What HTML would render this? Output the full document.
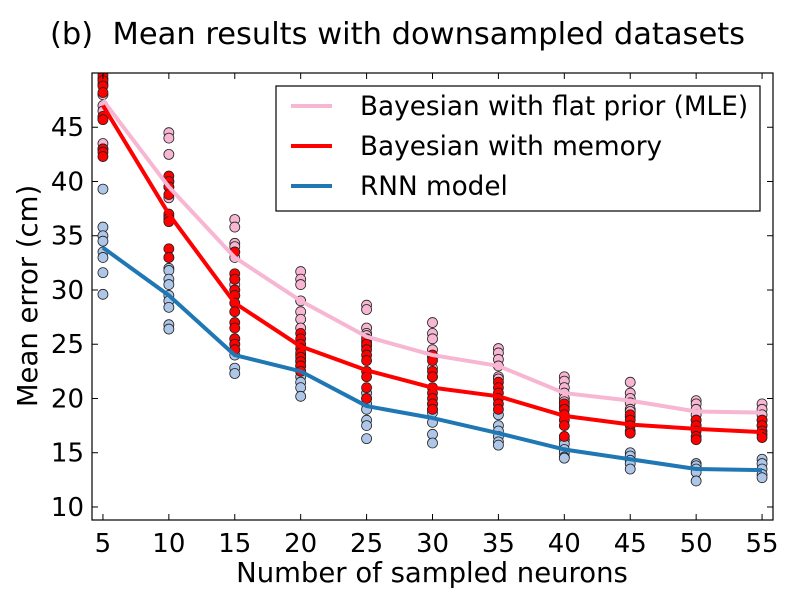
<!DOCTYPE html>
<html><head><meta charset="utf-8"><style>
body{margin:0;background:#fff}
svg text{font-family:"DejaVu Sans","Liberation Sans",sans-serif;fill:#000}
</style></head><body>
<svg id="chart" width="800" height="600" xmlns="http://www.w3.org/2000/svg"></svg>
<script>
const categories=[5,10,15,20,25,30,35,40,45,50,55];
const mleMean=[47.5,39.5,33,29,25.7,24,23,20.5,19.8,18.8,18.7];
const memMean=[47,37,28.8,24.8,22.6,21,20.2,18.4,17.6,17.2,16.9];
const rnnMean=[33.9,29.5,24,22.5,19.3,18.2,16.8,15.3,14.4,13.5,13.4];
const mlePts=[[49.5,49,48,47,46.5,45.8,43.5,43],[44.5,44,42.5,40,39.5,38.5,36.8,36.5,33],[36.5,35.8,34.3,34,33.5,33,31,30.5,30,29.5],[31.7,31,30.5,29,28,27.3,26.5],[28.6,28.2,26.5,26,25.8,25.2,24.8],[27,26,25.5,24.5,23.8,22.8,22],[24.6,24.2,23.6,23,22,21.8],[22,21.6,21,20.5,20,19.7,19.2],[21.5,20.5,20,19.6,19,18.8,18.3],[19.8,19.5,19,18.5,18,17.5],[19.5,19,18.5,18,17.5]];
const memPts=[[49.8,49.3,48.8,48.2,46,45.7,43,42.7,42.3],[40.5,40,39.5,38.8,37,36.6,36.3,33.8,33],[33.5,31.5,31,30,29.5,28.8,28,27,26.5,25.5,25,24.5],[26,25.5,25,24.6,24.2,23.8,23.4,23,22.5],[25.5,25,24.5,24,23.5,22.5,22,21,20],[24,23.5,22.5,22,21,20.5,20,19.5,19],[21.5,21,20.5,20,19.5,19],[19.5,19,18.5,18,17.5,16.5],[18.5,18,17.5,17,16.8],[18,17.5,17,16.5,16.2],[18,17.5,17,16.7,16.4]];
const rnnPts=[[39.3,35.8,35,34.5,33.5,33,31.6,29.6],[32,31.8,31,30.5,29.5,29,28.4,26.8,26.4],[25.5,25,24.5,24,22.8,22.3],[24,23.5,23,22.5,22,21.5,21,20.2],[20.5,20,19.5,19,18,17.5,16.3],[19.5,19,18.7,17.8,16.7,15.9],[18.5,17.5,17,16.5,16,15.7],[16.2,15.8,15.3,15,14.6,14.5],[15,14.7,14.3,14,13.5],[14,13.8,13.5,13.2,12.4],[14.4,14,13.5,13,12.7]];
const xTicks=[5,10,15,20,25,30,35,40,45,50,55];
const yTicks=[10,15,20,25,30,35,40,45];

const L=92,R=773,T=73,B=520;
const X0=4.17,X1=55.83,Y0=8.8,Y1=50;
const sx=v=>L+(v-X0)/(X1-X0)*(R-L);
const sy=v=>B-(v-Y0)/(Y1-Y0)*(B-T);
const svg=document.getElementById('chart');
const NS='http://www.w3.org/2000/svg';
function mk(tag,attrs,parent){const e=document.createElementNS(NS,tag);for(const k in attrs)e.setAttribute(k,attrs[k]);(parent||svg).appendChild(e);return e;}

let t=mk('text',{x:50,y:44,'font-size':30.5});t.textContent='(b)\u00a0 Mean results with downsampled datasets';



const clip=mk('clipPath',{id:'pc'});mk('rect',{x:L,y:T,width:R-L,height:B-T},clip);
const plot=mk('g',{'clip-path':'url(#pc)'});



function scatter(pts,fill,name){
  pts.forEach((arr,i)=>arr.forEach(v=>{
    const c=mk('circle',{cx:sx(categories[i]),cy:sy(v),r:5,fill:fill,stroke:'#222','stroke-width':0.8},plot);
    
    
  }));
}
scatter(mlePts,'#f7b6d2','mle-point');
scatter(rnnPts,'#aec7e8','rnn-point');
scatter(memPts,'#ff0000','memory-point');
function line(vals,color,name){
  const p=mk('polyline',{points:vals.map((v,i)=>sx(categories[i])+','+sy(v)).join(' '),fill:'none',stroke:color,'stroke-width':4,'stroke-linejoin':'round'},plot);
  
  
}
line(mleMean,'#f7b6d2','mle-line');
line(memMean,'#ff0000','memory-line');
line(rnnMean,'#1f77b4','rnn-line');

const frame=mk('rect',{x:L,y:T,width:R-L,height:B-T,fill:'none',stroke:'#000','stroke-width':1.2});



xTicks.forEach(v=>{
  const x=sx(v);
  mk('line',{x1:x,x2:x,y1:B,y2:B-6,stroke:'#000'});
  mk('line',{x1:x,x2:x,y1:T,y2:T+6,stroke:'#000'});
  const tx=mk('text',{x:x,y:B+32,'font-size':26,'text-anchor':'middle'});tx.textContent=v;
  
  
});
yTicks.forEach(v=>{
  const y=sy(v);
  mk('line',{x1:L,x2:L+6,y1:y,y2:y,stroke:'#000'});
  mk('line',{x1:R,x2:R-6,y1:y,y2:y,stroke:'#000'});
  const ty=mk('text',{x:L-8,y:y+9,'font-size':26,'text-anchor':'end'});ty.textContent=v;
  
  
});
const xl=mk('text',{x:432,y:582,'font-size':27.5,'text-anchor':'middle'});xl.textContent='Number of sampled neurons';


const yl=mk('text',{x:0,y:0,'font-size':27.5,'text-anchor':'middle',transform:'translate(37,296) rotate(-90)'});yl.textContent='Mean error (cm)';



const lg=mk('g',{});


mk('rect',{x:276,y:86,width:484,height:125,fill:'#fff',stroke:'#000','stroke-width':1.2},lg);
[['Bayesian with flat prior (MLE)','#f7b6d2',106],['Bayesian with memory','#ff0000',146],['RNN model','#1f77b4',186]].forEach(e=>{
  const g=mk('g',{},lg);
  
  
  mk('line',{x1:291,x2:332,y1:e[2],y2:e[2],stroke:e[1],'stroke-width':4},g);
  const tt=mk('text',{x:360,y:e[2]+9,'font-size':26.3},g);tt.textContent=e[0];
});
</script>
</body></html>
